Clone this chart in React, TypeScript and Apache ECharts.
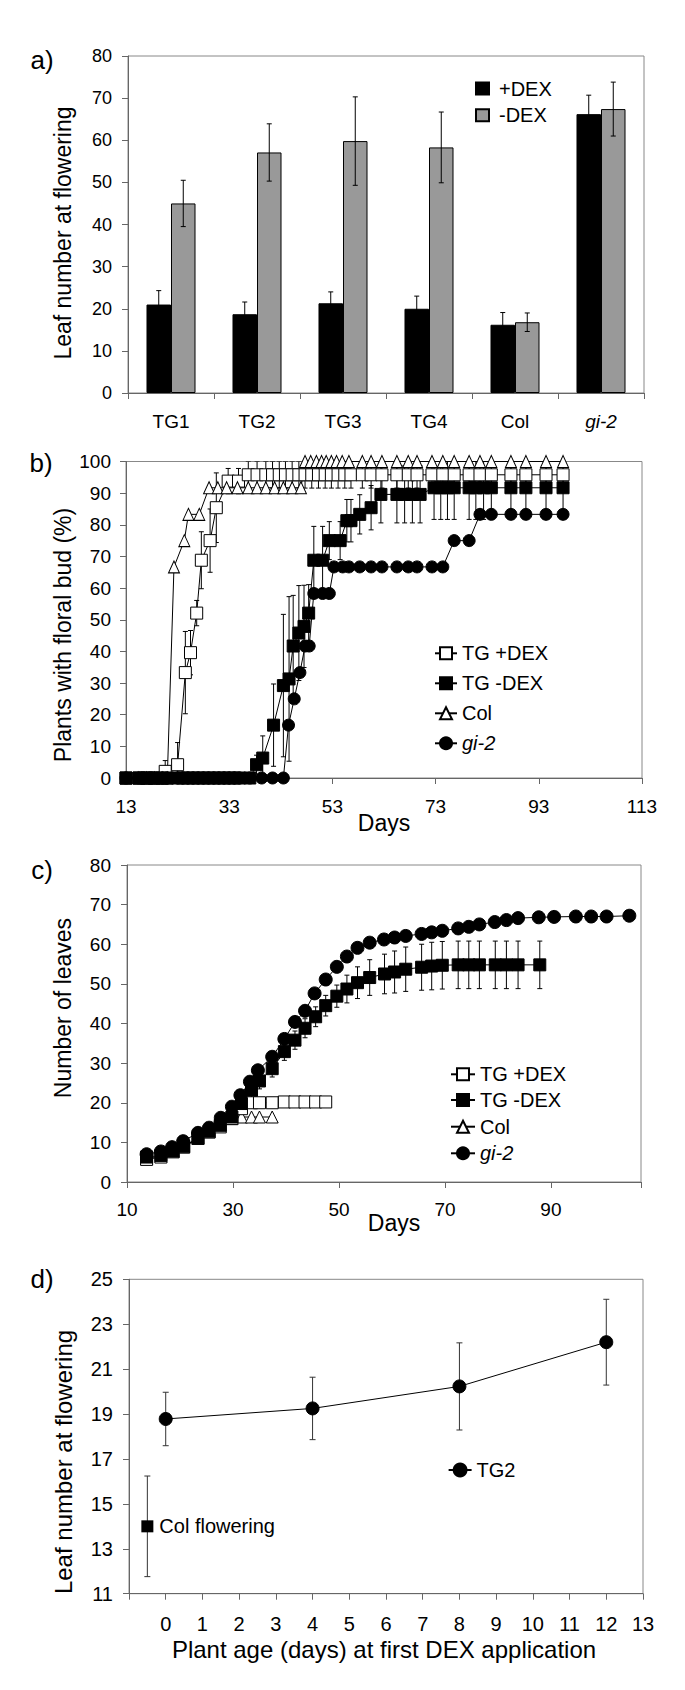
import React, { useEffect, useRef } from 'react';
import * as echarts from 'echarts';

const FONT = "'Liberation Sans', Arial, Helvetica, sans-serif";

// ---------- Panel a ----------
const aCategories = ['TG1', 'TG2', 'TG3', 'TG4', 'Col', 'gi-2'];
const aPlusDex = [21.0, 18.7, 21.3, 20.0, 16.2, 66.2];
const aPlusErr = [3.3, 2.9, 2.7, 3.0, 2.9, 4.5];
const aMinusDex = [45.0, 57.1, 59.8, 58.3, 16.8, 67.4];
const aMinusErr = [5.5, 6.8, 10.5, 8.4, 2.2, 6.4];

// ---------- Panel b ----------
const bTgPlusDays = [13, 15.5, 17, 18.5, 20.6, 23, 24.5, 25.5, 26.7, 27.6, 29.3, 30.5, 32.8, 34.8, 36.7, 38.4, 40.1, 41.4, 42.7, 43.9, 45.2, 46.5, 47.7, 49, 50.3, 51.6, 52.8, 54.1, 55.4, 56.6, 58.8, 60.5, 62.6, 65.5, 67.7, 69.4, 72.3, 74.4, 76.6, 79.5, 81.6, 83.8, 87.6, 90.5, 94.4, 97.7];
const bTgPlusVals = [0, 0, 0, 0, 2.1, 4.2, 33.3, 39.6, 52.1, 68.8, 75, 85.4, 93.8, 93.8, 95.8, 95.8, 95.8, 95.8, 95.8, 95.8, 95.8, 95.8, 95.8, 95.8, 95.8, 95.8, 95.8, 95.8, 95.8, 95.8, 95.8, 95.8, 95.8, 95.8, 95.8, 95.8, 95.8, 95.8, 95.8, 95.8, 95.8, 95.8, 95.8, 95.8, 95.8, 95.8];
const bTgPlusErr = [0, 0, 0, 0, 3.4, 7, 13, 7, 4, 9, 10, 11, 4, 4, 4.2, 4.2, 4.2, 4.2, 4.2, 4.2, 4.2, 4.2, 4.2, 4.2, 4.2, 4.2, 4.2, 4.2, 4.2, 4.2, 4.2, 4.2, 4.2, 4.2, 4.2, 4.2, 4.2, 4.2, 4.2, 4.2, 4.2, 4.2, 4.2, 4.2, 4.2, 4.2];

const bTgMinusDays = [13, 15.5, 17, 18.5, 20, 21, 23, 24, 25, 26, 27, 28, 29, 30, 31, 32, 33, 34, 35, 37, 38.3, 39.5, 41.6, 43.5, 44.6, 45.4, 46.5, 47.5, 48.4, 49.4, 51.1, 52.4, 54.5, 55.8, 56.6, 58.3, 60.5, 62.4, 65.5, 67, 68.5, 70, 72.7, 74, 75.3, 76.6, 79.5, 80.8, 82.3, 83.8, 87.6, 90.5, 94.4, 97.7];
const bTgMinusVals = [0, 0, 0, 0, 0, 0, 0, 0, 0, 0, 0, 0, 0, 0, 0, 0, 0, 0, 0, 0, 4.2, 6.3, 16.7, 29.2, 31.3, 41.7, 45.8, 47.9, 52.1, 68.8, 68.8, 75, 75, 81.3, 81.3, 83.3, 85.4, 89.6, 89.6, 89.6, 89.6, 89.6, 91.7, 91.7, 91.7, 91.7, 91.7, 91.7, 91.7, 91.7, 91.7, 91.7, 91.7, 91.7];
const bTgMinusErr = [0, 0, 0, 0, 0, 0, 0, 0, 0, 0, 0, 0, 0, 0, 0, 0, 0, 0, 0, 0, 3, 7, 13, 22.5, 26, 16, 15, 13, 9, 10.7, 10.7, 6, 6, 6.7, 6.7, 6.2, 7, 9, 9, 9, 9, 9, 10, 10, 10, 10, 10, 10, 10, 10, 10, 10, 10, 10];

const bColDays = [13, 15.5, 17, 18.5, 20, 21, 22.3, 24.3, 25.1, 27.2, 29.1, 30.8, 32.5, 34.6, 36.7, 38.4, 40.1, 41.8, 43.5, 45.2, 46.9, 47.7, 48.8, 49.9, 50.9, 51.8, 52.8, 53.8, 54.9, 56.2, 58.8, 60.5, 62.6, 65.5, 67.7, 69.4, 72.3, 74.4, 76.6, 79.5, 81.6, 83.8, 87.6, 90.5, 94.4, 97.7];
const bColVals = [0, 0, 0, 0, 0, 0, 66.7, 75, 83.3, 83.3, 91.7, 91.7, 91.7, 91.7, 91.7, 91.7, 91.7, 91.7, 91.7, 91.7, 91.7, 100, 100, 100, 100, 100, 100, 100, 100, 100, 100, 100, 100, 100, 100, 100, 100, 100, 100, 100, 100, 100, 100, 100, 100, 100];

const bGiDays = [13, 15.5, 17, 18.5, 20, 21, 23, 24, 25, 26, 27, 28, 29, 30, 31, 32, 33, 34, 35, 37, 39.3, 41.4, 43.5, 44.5, 45.6, 46.7, 47.7, 48.5, 49.4, 51.1, 52.4, 53.3, 55, 56.2, 58.3, 60.5, 62.6, 65.5, 67.7, 69.4, 72.3, 74.4, 76.6, 79.5, 81.6, 83.8, 87.6, 90.5, 94.4, 97.7];
const bGiVals = [0, 0, 0, 0, 0, 0, 0, 0, 0, 0, 0, 0, 0, 0, 0, 0, 0, 0, 0, 0, 0, 0, 0, 16.7, 25, 33.3, 41.7, 41.7, 58.3, 58.3, 58.3, 66.7, 66.7, 66.7, 66.7, 66.7, 66.7, 66.7, 66.7, 66.7, 66.7, 66.7, 75, 75, 83.3, 83.3, 83.3, 83.3, 83.3, 83.3];

// ---------- Panel c ----------
const cGiDays = [13.7, 16.4, 18.5, 20.6, 23.4, 25.5, 27.7, 29.8, 31.4, 33.2, 34.7, 37.4, 39.7, 41.7, 43.6, 45.4, 47.5, 49.6, 51.5, 53.5, 55.8, 58.5, 60.5, 62.6, 65.6, 67.5, 69.5, 72.5, 74.5, 76.5, 79.4, 81.6, 83.8, 87.7, 90.6, 94.7, 97.6, 100.5, 104.8];
const cGiVals = [7.0, 7.7, 8.8, 10.3, 12.4, 13.7, 16.2, 19.0, 21.9, 25.3, 28.2, 31.6, 36.1, 40.4, 43.2, 47.6, 51.1, 54.3, 56.9, 59.1, 60.4, 61.2, 61.7, 62.1, 62.6, 63.0, 63.4, 64.0, 64.4, 65.0, 65.6, 66.1, 66.6, 66.8, 66.9, 67.0, 67.0, 67.0, 67.2];

const cTgMinusDays = [13.7, 16.4, 18.7, 20.7, 23.4, 25.5, 27.6, 29.8, 31.6, 33.5, 35.0, 37.4, 39.7, 41.7, 43.6, 45.6, 47.5, 49.6, 51.5, 53.5, 55.8, 58.6, 60.5, 62.6, 65.6, 67.5, 69.5, 72.5, 74.5, 76.5, 79.5, 81.6, 83.8, 87.9];
const cTgMinusVals = [6.3, 6.7, 7.8, 9.0, 11.1, 12.8, 14.3, 16.4, 19.8, 23.2, 25.5, 28.6, 32.9, 35.8, 38.8, 41.7, 44.5, 46.9, 48.7, 50.3, 51.6, 52.5, 53.0, 53.7, 54.2, 54.5, 54.7, 54.8, 54.8, 54.8, 54.8, 54.8, 54.8, 54.8];
const cTgMinusErr = [0.8, 0.8, 0.9, 1.0, 1.1, 1.2, 1.3, 1.5, 1.7, 1.9, 2.0, 2.1, 2.2, 2.3, 2.4, 2.5, 2.6, 2.8, 3.5, 4.0, 4.5, 5.0, 5.3, 5.6, 5.8, 6.0, 6.0, 6.0, 6.0, 6.0, 6.0, 6.0, 6.0, 6.0];

const cTgPlusDays = [13.7, 16.4, 18.7, 20.7, 23.4, 25.5, 27.6, 29.8, 31.6, 33.5, 35.0, 37.4, 39.7, 41.7, 43.6, 45.6, 47.5];
const cTgPlusVals = [5.7, 6.3, 7.6, 8.8, 11.0, 12.6, 13.9, 16.0, 18.5, 20.0, 20.0, 20.0, 20.2, 20.2, 20.2, 20.2, 20.2];

const cColDays = [13.7, 16.4, 18.7, 20.7, 23.4, 25.5, 27.6, 29.8, 31.6, 33.5, 35.0, 37.4];
const cColVals = [6.0, 6.5, 7.7, 8.9, 11.0, 12.7, 14.5, 16.0, 16.4, 16.4, 16.4, 16.4];

// ---------- Panel d ----------
const dAges = [0, 4, 8, 12];
const dTg2 = [18.78, 19.25, 20.23, 22.2];
const dTg2Err = [1.19, 1.39, 1.94, 1.91];
const dColAge = [-0.5];
const dColVal = [14.0];
const dColErr = [2.24];

const zip = (xs: number[], ys: number[]) => xs.map((x, i) => [x, ys[i]]);
const errData = (xs: number[], ys: number[], es: number[]) =>
  xs.map((x, i) => [x, ys[i] - es[i], ys[i] + es[i]]).filter((_, i) => es[i] > 0);

const errRenderer = (cap: number, color: string) => (_p: any, api: any) => {
  const x = api.value(0);
  const lo = api.coord([x, api.value(1)]);
  const hi = api.coord([x, api.value(2)]);
  const s = { stroke: color, lineWidth: 1 };
  return {
    type: 'group',
    children: [
      { type: 'line', shape: { x1: lo[0], y1: lo[1], x2: hi[0], y2: hi[1] }, style: s },
      { type: 'line', shape: { x1: hi[0] - cap / 2, y1: hi[1], x2: hi[0] + cap / 2, y2: hi[1] }, style: s },
      { type: 'line', shape: { x1: lo[0] - cap / 2, y1: lo[1], x2: lo[0] + cap / 2, y2: lo[1] }, style: s },
    ],
  };
};

const BAR_GAP = 0.43;
const barErrRenderer = (_p: any, api: any) => {
  const idx = api.value(0);
  const lo = api.coord([idx, api.value(1)]);
  const hi = api.coord([idx, api.value(2)]);
  const band = api.size([1, 0])[0];
  const bw = (band * (1 - BAR_GAP)) / 2;
  const cx = lo[0] + (api.value(3) * bw) / 2;
  const cap = 5;
  const s = { stroke: '#000', lineWidth: 1 };
  return {
    type: 'group',
    children: [
      { type: 'line', shape: { x1: cx, y1: lo[1], x2: cx, y2: hi[1] }, style: s },
      { type: 'line', shape: { x1: cx - cap / 2, y1: hi[1], x2: cx + cap / 2, y2: hi[1] }, style: s },
      { type: 'line', shape: { x1: cx - cap / 2, y1: lo[1], x2: cx + cap / 2, y2: lo[1] }, style: s },
    ],
  };
};

const AX = '#666';
const labelStyle = (size: number, margin: number) => ({ fontSize: size, color: '#000', fontFamily: FONT, margin });
const axisLine = { show: true, onZero: false, lineStyle: { color: AX, width: 1 } };
const axisTick = { show: true, inside: false, length: 6, lineStyle: { color: AX, width: 1 } };

const italicRich = { i: { fontStyle: 'italic', fontFamily: FONT, fontSize: 20, color: '#000' } };

function buildOption(): any {
  const grids = [
    { left: 128, top: 56, width: 516, height: 337 },
    { left: 126, top: 461.5, width: 516, height: 316.5 },
    { left: 127, top: 865, width: 514, height: 317 },
    { left: 129, top: 1279.3, width: 514, height: 314.4 },
  ].map((g) => ({ ...g, show: true, borderColor: '#888', borderWidth: 1, backgroundColor: 'transparent' }));

  const xAxis = [
    {
      type: 'category', gridIndex: 0, data: aCategories, axisLine, axisTick: { ...axisTick, alignWithLabel: false },
      axisLabel: {
        ...labelStyle(19, 19), formatter: (v: string) => (v === 'gi-2' ? '{i|gi-2}' : v),
        rich: { i: { ...italicRich.i, fontSize: 19 } },
      },
      splitLine: { show: false },
    },
    { type: 'value', gridIndex: 1, min: 13, max: 113, interval: 20, axisLine, axisTick, axisLabel: labelStyle(19, 19), splitLine: { show: false } },
    {
      type: 'value', gridIndex: 2, min: 10, max: 107, interval: 20, axisLine, axisTick,
      axisLabel: { ...labelStyle(19, 18), formatter: (v: number) => ((v - 10) % 20 === 0 ? String(v) : '') },
      splitLine: { show: false },
    },
    {
      type: 'value', gridIndex: 3, min: -1, max: 13, interval: 1, axisLine, axisTick,
      axisLabel: { ...labelStyle(20, 20), formatter: (v: number) => (v < 0 ? '' : String(v)) },
      splitLine: { show: false },
    },
  ];
  const yAxis = [
    { type: 'value', gridIndex: 0, min: 0, max: 80, interval: 10, axisLine, axisTick, axisLabel: labelStyle(18, 16), splitLine: { show: false } },
    { type: 'value', gridIndex: 1, min: 0, max: 100, interval: 10, axisLine, axisTick, axisLabel: labelStyle(19, 15), splitLine: { show: false } },
    { type: 'value', gridIndex: 2, min: 0, max: 80, interval: 10, axisLine, axisTick, axisLabel: labelStyle(19, 16), splitLine: { show: false } },
    { type: 'value', gridIndex: 3, min: 11, max: 25, interval: 2, axisLine, axisTick, axisLabel: labelStyle(20, 16), splitLine: { show: false } },
  ];

  const lineCommon = { type: 'line', showSymbol: true, showAllSymbol: true, lineStyle: { color: '#000', width: 1 }, emphasis: { disabled: true } };
  const openSq = { symbol: 'rect', itemStyle: { color: '#fff', borderColor: '#000', borderWidth: 1 } };
  const fillSq = { symbol: 'rect', itemStyle: { color: '#000', borderColor: '#000', borderWidth: 1 } };
  const openTri = { symbol: 'triangle', itemStyle: { color: '#fff', borderColor: '#000', borderWidth: 1 } };
  const fillCirc = { symbol: 'circle', itemStyle: { color: '#000', borderColor: '#000', borderWidth: 1 } };

  const series: any[] = [
    // panel a
    {
      type: 'bar', name: '+DEX', xAxisIndex: 0, yAxisIndex: 0, data: aPlusDex, barGap: '0%', barCategoryGap: '43%',
      itemStyle: { color: '#000', borderColor: '#000', borderWidth: 1 }, z: 2,
    },
    {
      type: 'bar', name: '-DEX', xAxisIndex: 0, yAxisIndex: 0, data: aMinusDex, barGap: '0%', barCategoryGap: '43%',
      itemStyle: { color: '#999', borderColor: '#000', borderWidth: 1 }, z: 2,
    },
    {
      type: 'custom', xAxisIndex: 0, yAxisIndex: 0, renderItem: barErrRenderer, z: 3,
      encode: { x: 0, y: [1, 2] },
      data: [
        ...aPlusDex.map((v, i) => [i, v - aPlusErr[i], v + aPlusErr[i], -1]),
        ...aMinusDex.map((v, i) => [i, v - aMinusErr[i], v + aMinusErr[i], 1]),
      ],
    },
    // panel b
    {
      type: 'custom', xAxisIndex: 1, yAxisIndex: 1, renderItem: errRenderer(5, '#000'), z: 1, clip: true,
      encode: { x: 0, y: [1, 2] },
      data: [...errData(bTgPlusDays, bTgPlusVals, bTgPlusErr), ...errData(bTgMinusDays, bTgMinusVals, bTgMinusErr)],
    },
    { ...lineCommon, ...openSq, name: 'TG +DEX', xAxisIndex: 1, yAxisIndex: 1, symbolSize: 12, data: zip(bTgPlusDays, bTgPlusVals), z: 3 },
    { ...lineCommon, ...openTri, name: 'Col', xAxisIndex: 1, yAxisIndex: 1, symbolSize: [11, 12], data: zip(bColDays, bColVals), z: 3 },
    { ...lineCommon, ...fillCirc, name: 'gi-2', xAxisIndex: 1, yAxisIndex: 1, symbolSize: 12, data: zip(bGiDays, bGiVals), z: 3 },
    { ...lineCommon, ...fillSq, name: 'TG -DEX', xAxisIndex: 1, yAxisIndex: 1, symbolSize: 12, data: zip(bTgMinusDays, bTgMinusVals), z: 3 },
    // panel c
    {
      type: 'custom', xAxisIndex: 2, yAxisIndex: 2, renderItem: errRenderer(5, '#000'), z: 1, clip: true,
      encode: { x: 0, y: [1, 2] },
      data: errData(cTgMinusDays, cTgMinusVals, cTgMinusErr),
    },
    { ...lineCommon, ...openTri, name: 'Col', xAxisIndex: 2, yAxisIndex: 2, symbolSize: [12, 12], data: zip(cColDays, cColVals), z: 3 },
    { ...lineCommon, ...openSq, name: 'TG +DEX', xAxisIndex: 2, yAxisIndex: 2, symbolSize: 12, data: zip(cTgPlusDays, cTgPlusVals), z: 3 },
    { ...lineCommon, ...fillSq, name: 'TG -DEX', xAxisIndex: 2, yAxisIndex: 2, symbolSize: 12, data: zip(cTgMinusDays, cTgMinusVals), z: 3 },
    { ...lineCommon, ...fillCirc, name: 'gi-2', xAxisIndex: 2, yAxisIndex: 2, symbolSize: 13, data: zip(cGiDays, cGiVals), z: 3 },
    // panel d
    {
      type: 'custom', xAxisIndex: 3, yAxisIndex: 3, renderItem: errRenderer(6, '#333'), z: 1,
      encode: { x: 0, y: [1, 2] },
      data: [...errData(dAges, dTg2, dTg2Err), ...errData(dColAge, dColVal, dColErr)],
    },
    { ...lineCommon, ...fillCirc, name: 'TG2', xAxisIndex: 3, yAxisIndex: 3, symbolSize: 13, data: zip(dAges, dTg2), z: 3 },
    {
      type: 'scatter', name: 'Col flowering', xAxisIndex: 3, yAxisIndex: 3, symbol: 'rect', symbolSize: 12,
      itemStyle: { color: '#000', opacity: 1 }, data: zip(dColAge, dColVal), z: 3, emphasis: { disabled: true },
      label: { show: true, position: 'right', distance: 6, formatter: 'Col flowering', fontSize: 20, color: '#000', fontFamily: FONT, opacity: 1 },
    },
  ];

  const legendText = { fontSize: 20, color: '#000', fontFamily: FONT, rich: italicRich };
  const mkLegend = (name: string, left: number, top: number, w: number, h: number, extra: any = {}) => ({
    data: [name], left, top, itemWidth: w, itemHeight: h, orient: 'vertical', padding: 0, selectedMode: false,
    formatter: (n: string) => (n === 'gi-2' ? '{i|gi-2}' : n),
    textStyle: legendText, ...extra,
  });
  const legend = [
    mkLegend('+DEX', 475, 78.5, 13, 12, { icon: 'rect', textStyle: { ...legendText, padding: [0, 0, 0, 5] } }),
    mkLegend('-DEX', 475, 105.3, 13, 12, { icon: 'rect', textStyle: { ...legendText, padding: [0, 0, 0, 5] } }),
    mkLegend('TG +DEX', 434, 643.3, 22, 15),
    mkLegend('TG -DEX', 434, 673.3, 22, 15),
    mkLegend('Col', 434, 703.3, 22, 15),
    mkLegend('gi-2', 434, 733.3, 22, 15),
    mkLegend('TG +DEX', 450, 1064.3, 24, 15),
    mkLegend('TG -DEX', 450, 1090, 24, 15),
    mkLegend('Col', 450, 1116.7, 24, 15),
    mkLegend('gi-2', 450, 1143.3, 24, 15),
    mkLegend('TG2', 447.6, 1460, 23, 16),
  ];

  const txt = (text: string, x: number, y: number, size: number, rotate = false) => ({
    type: 'text', x, y, rotation: rotate ? Math.PI / 2 : 0, silent: true,
    style: { text, fontSize: size, fontFamily: FONT, fill: '#000', align: 'center', verticalAlign: 'middle' },
  });
  const graphic = [
    txt('a)', 42, 60, 26),
    txt('b)', 41, 463, 26),
    txt('c)', 42, 870, 26),
    txt('d)', 42, 1279, 26),
    txt('Leaf number at flowering', 63, 233, 23, true),
    txt('Plants with floral bud (%)', 63, 635, 23, true),
    txt('Number of leaves', 63, 1008, 23, true),
    txt('Leaf number at flowering', 63, 1462, 24, true),
    txt('Days', 384, 823, 23),
    txt('Days', 394, 1223, 23),
    txt('Plant age (days) at first DEX application', 384, 1649, 24),
  ];

  return {
    animation: false,
    backgroundColor: '#fff',
    textStyle: { fontFamily: FONT },
    grid: grids,
    xAxis,
    yAxis,
    legend,
    series,
    graphic,
  };
}

export default function App() {
  const ref = useRef<HTMLDivElement>(null);
  useEffect(() => {
    const chart = echarts.init(ref.current as HTMLDivElement, null, { renderer: 'svg' });
    chart.setOption(buildOption());
    return () => chart.dispose();
  }, []);
  return (
    <div
      ref={ref}
      style={{ position: 'absolute', left: 0, top: 0, width: 685, height: 1690, background: '#fff' }}
    />
  );
}
